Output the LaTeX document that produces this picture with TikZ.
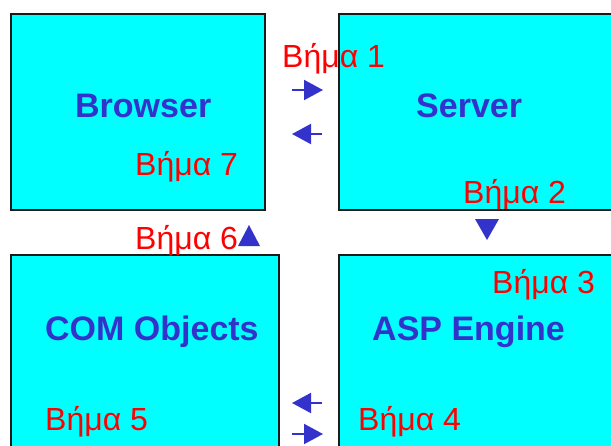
\documentclass[tikz,border=0pt]{standalone}
\usepackage{fontspec}
\setmainfont{Liberation Sans}
\usetikzlibrary{arrows.meta}
\definecolor{boxcyan}{HTML}{00FFFF}
\definecolor{labelblue}{HTML}{3333CC}
\definecolor{stepred}{HTML}{FF0000}
\definecolor{edgegray}{HTML}{1A1A1A}
\tikzset{
  panel/.style={draw=edgegray, line width=1.5pt, fill=boxcyan, anchor=north west, inner sep=0pt},
  title/.style={text=labelblue, font=\bfseries\fontsize{34}{40}\selectfont, anchor=base west, inner sep=0pt},
  steplabel/.style={text=stepred, font=\fontsize{32}{38}\selectfont, anchor=base west, inner sep=0pt},
  flow/.style={draw=labelblue, line width=2pt, -{Triangle[length=19pt,width=20pt]}},
  marker/.style={fill=labelblue, draw=none}
}
\begin{document}
\begin{tikzpicture}[x=1pt,y=-1pt]
\useasboundingbox (0,0) rectangle (611,445);
\clip (0,0) rectangle (611,445);
\fill[white] (0,0) rectangle (611,445);

% the four components
\node[panel, minimum width=254pt, minimum height=196pt] (browser) at (10,13) {};
\node[panel, minimum width=310pt, minimum height=196pt] (server) at (338,13) {};
\node[panel, minimum width=268pt, minimum height=220pt] (com) at (10,254) {};
\node[panel, minimum width=310pt, minimum height=220pt] (asp) at (338,254) {};

% component names
\node[title] (tbrowser) at (75,117) {Browser};
\node[title] (tserver) at (416,117) {Server};
\node[title] (tcom) at (45,340) {COM Objects};
\node[title] (tasp) at (372,340) {ASP Engine};

% step labels
\node[steplabel] (s1) at (282,67) {Βήμα 1};
\node[steplabel] (s2) at (463,203) {Βήμα 2};
\node[steplabel] (s3) at (492,293) {Βήμα 3};
\node[steplabel] (s4) at (358,430) {Βήμα 4};
\node[steplabel] (s5) at (45,430) {Βήμα 5};
\node[steplabel] (s6) at (135,249) {Βήμα 6};
\node[steplabel] (s7) at (135,175) {Βήμα 7};

% request / response arrows between the components
\coordinate (r1a) at (292,90);  \coordinate (r1b) at (323,90);
\coordinate (r7a) at (322,134); \coordinate (r7b) at (292,134);
\coordinate (r4a) at (322,403); \coordinate (r4b) at (292,403);
\coordinate (r5a) at (292,434); \coordinate (r5b) at (323,434);
\draw[flow] (r1a) -- (r1b);
\draw[flow] (r7a) -- (r7b);
\draw[flow] (r4a) -- (r4b);
\draw[flow] (r5a) -- (r5b);

% pointer triangles
\coordinate (d1) at (475,219); \coordinate (d2) at (499,219); \coordinate (d3) at (487,240);
\fill[marker] (d1) -- (d2) -- (d3) -- cycle;
\coordinate (u1) at (238,246); \coordinate (u2) at (260,246); \coordinate (u3) at (249,225);
\fill[marker] (u1) -- (u2) -- (u3) -- cycle;
\end{tikzpicture}
\end{document}
